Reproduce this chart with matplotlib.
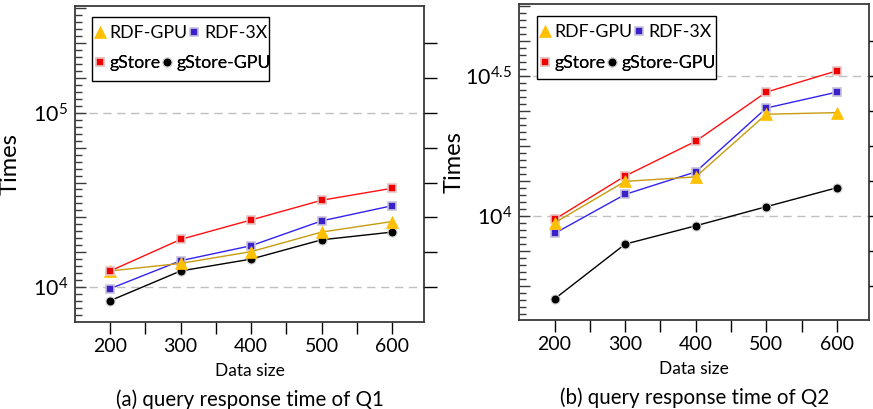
import numpy as np
import matplotlib
matplotlib.use('Agg')
import matplotlib.pyplot as plt
from matplotlib.ticker import FixedLocator, NullFormatter, FuncFormatter
from matplotlib.patches import Rectangle

plt.rcParams['font.family'] = ['Lato', 'DejaVu Sans']
plt.rcParams['mathtext.fontset'] = 'custom'
plt.rcParams['mathtext.rm'] = 'Lato'
plt.rcParams['mathtext.it'] = 'Lato:italic'

# data
sizes = [200, 300, 400, 500, 600]
series = ['RDF-GPU', 'RDF-3X', 'gStore', 'gStore-GPU']

q1_rdf_gpu = [12400, 13700, 16000, 20700, 23800]
q1_rdf_3x = [9820, 14200, 17300, 24000, 29300]
q1_gstore = [12400, 18800, 24300, 31500, 36900]
q1_gstore_gpu = [8380, 12400, 14500, 18700, 20700]

q2_rdf_gpu = [9460, 13300, 13800, 23100, 23400]
q2_rdf_3x = [8670, 11950, 14380, 24300, 27700]
q2_gstore = [9730, 13900, 18500, 27700, 33000]
q2_gstore_gpu = [5060, 7940, 9230, 10800, 12620]

captions = ['(a) query response time of Q1', '(b) query response time of Q2']

styles = {
    'RDF-GPU': dict(color='#c89b10', marker='^', mfc='#ffc000', mec='#ffc000', ms=8.5, mew=0.5),
    'RDF-3X': dict(color='#3322ee', marker='s', mfc='#3b22c8', mec='#c8c4dc', ms=6, mew=1.2),
    'gStore': dict(color='#ff1010', marker='s', mfc='#ee0000', mec='#e8c4c4', ms=6, mew=1.2),
    'gStore-GPU': dict(color='black', marker='o', mfc='black', mec='#d0d0d0', ms=6.5, mew=0.8),
}

fig = plt.figure(figsize=(8.73, 4.09), dpi=100)
ax1 = fig.add_axes([0.0859, 0.2127, 0.4003, 0.7726])
ax2 = fig.add_axes([0.5948, 0.2176, 0.4010, 0.7726])

# ax, values, log ylim, major step, minor step, labelled exps, right ticks range, zorders,
# legend box (x, y, w, h), legend row centres
panels = [
    (ax1, [q1_rdf_gpu, q1_rdf_3x, q1_gstore, q1_gstore_gpu], (3.801, 5.611), 0.2, 0.04, [4, 5],
     (4.0, 5.4), [3, 2, 4, 1], (0.0487, 0.763, 0.506, 0.202), (0.9146, 0.8196)),
    (ax2, [q2_rdf_gpu, q2_rdf_3x, q2_gstore, q2_gstore_gpu], (3.629, 4.757), 0.125, 0.025, [4, 4.5],
     (3.75, 4.625), [4, 2, 3, 1], (0.0506, 0.763, 0.511, 0.199), (0.912, 0.812)),
]

spine_col = '#3a3a3a'


def make_fmt(labelled):
    def fmt(y, pos):
        e = np.log10(y)
        for l in labelled:
            if abs(e - l) < 1e-6:
                if float(l).is_integer():
                    return r'$10^{%d}$' % int(l)
                return r'$10^{%g}$' % l
        return ''
    return fmt


for i, (ax, vals, ylog, step, mstep, labelled, rrange, zo, box, rows) in enumerate(panels):
    lines = {}
    for name, v, z in zip(series, vals, zo):
        st = styles[name]
        ln, = ax.plot(sizes, v, color=st['color'], lw=1.0, marker=st['marker'],
                      markerfacecolor=st['mfc'], markeredgecolor=st['mec'],
                      markersize=st['ms'], markeredgewidth=st['mew'], label=name, zorder=3 + z)
        lines[name] = ln

    ax.set_yscale('log')
    ax.set_ylim(10 ** ylog[0], 10 ** ylog[1])
    ax.set_xlim(150, 646)

    for e in labelled:
        ax.axhline(10 ** e, color='#c0c0c0', lw=1.0, ls=(0, (6, 4)), zorder=1)

    majors = np.arange(np.ceil(ylog[0] / step) * step, ylog[1], step)
    minors = np.arange(np.ceil(ylog[0] / mstep) * mstep, ylog[1], mstep)

    ax.yaxis.set_major_locator(FixedLocator(10 ** majors))
    ax.yaxis.set_minor_locator(FixedLocator(10 ** minors))
    ax.yaxis.set_major_formatter(FuncFormatter(make_fmt(labelled)))
    ax.yaxis.set_minor_formatter(NullFormatter())
    ax.tick_params(axis='y', which='major', direction='in', length=8, width=1.0,
                   labelsize=15.5, pad=5, color=spine_col)
    ax.tick_params(axis='y', which='minor', direction='in', length=5, width=1.0, color=spine_col)

    # right side ticks point outward
    rax = ax.twinx()
    rax.set_yscale('log')
    rax.set_ylim(ax.get_ylim())
    rt = np.arange(rrange[0], rrange[1] + 1e-9, step)
    rax.yaxis.set_major_locator(FixedLocator(10 ** rt))
    rax.yaxis.set_minor_locator(FixedLocator([]))
    rax.yaxis.set_major_formatter(NullFormatter())
    rax.tick_params(axis='y', which='major', direction='out', length=9, width=1.0, color='black')
    for s in rax.spines.values():
        s.set_visible(False)

    ax.set_xticks([200, 250, 300, 350, 400, 450, 500, 550, 600])
    ax.set_xticklabels(['200', '', '300', '', '400', '', '500', '', '600'])
    ax.tick_params(axis='x', direction='out', length=8.5, width=1.0, labelsize=14, pad=3,
                   color='black')

    for s in ax.spines.values():
        s.set_color(spine_col)
        s.set_linewidth(1.3)

    ax.set_xlabel('Data size', fontsize=12.5, labelpad=6)
    ax.set_ylabel('Times', fontsize=17)
    ax.yaxis.set_label_coords(-0.155, 0.5)
    ax.text(0.5, -0.245, captions[i], transform=ax.transAxes, ha='center', va='center',
            fontsize=14.8)

    # legend: framed box with two rows
    ax.add_patch(Rectangle(box[:2], box[2], box[3], transform=ax.transAxes, facecolor='white',
                           edgecolor='black', lw=1.0, zorder=19))
    for pair, yrow in zip([['RDF-GPU', 'RDF-3X'], ['gStore', 'gStore-GPU']], rows):
        leg = ax.legend([lines[n] for n in pair], pair, ncol=2, loc='center left',
                        bbox_to_anchor=(box[0] + 0.005, yrow), frameon=False,
                        fontsize=12.8, handlelength=0.7, handletextpad=0.2, columnspacing=0.0,
                        borderpad=0.0, borderaxespad=0.0)
        for h in leg.legend_handles:
            h.set_linestyle('None')
        leg.set_zorder(20)
        ax.add_artist(leg)

fig.savefig('out.png', dpi=100)
